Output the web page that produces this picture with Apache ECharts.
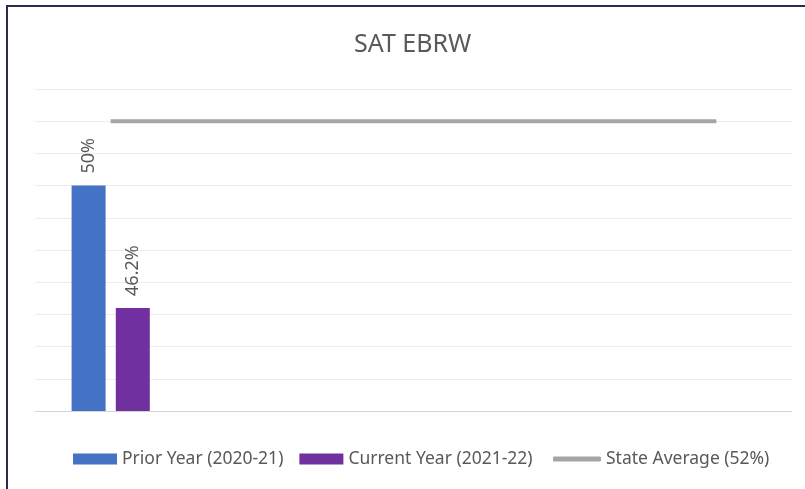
<!DOCTYPE html>
<html>
<head>
<meta charset="utf-8">
<script src="https://cdn.jsdelivr.net/npm/echarts@6/dist/echarts.min.js"></script>
<style>
    html, body { margin: 0; padding: 0; background: #fff; }
    #chart { width: 805px; height: 489px; }
    /* frame of the screenshot (top + left edge) */
    #frame {
        position: absolute; left: 6px; top: 5px; width: 805px; height: 489px;
        border-top: 2px solid #2e2a4e; border-left: 2px solid #2e2a4e;
        pointer-events: none;
    }
</style>
</head>
<body>
<div id="chart"></div>
<div id="frame"></div>
<script>
// 类目（只有第一个有柱子）
var categories = ['1', '2', '3', '4', '5'];
var priorYear = [50, null, null, null, null];
var currentYear = [46.2, null, null, null, null];
var stateAvg = [52, 52, 52, 52, 52];

var chart = echarts.init(document.getElementById('chart'));

var txt = '#595959';
var font = 'Noto Sans';
var legendText = { fontFamily: font, fontSize: 17.5, color: txt };

var barLabel = {
    show: true, position: 'top', rotate: 90, distance: 12,
    align: 'left', verticalAlign: 'middle',
    formatter: '{c}%', fontFamily: font, fontSize: 18, color: txt
};

var option = {
    animation: false,
    title: {
        text: 'SAT EBRW',
        left: 349,
        top: 27,
        textStyle: { fontFamily: font, fontSize: 25, fontWeight: 'normal', color: txt }
    },
    // 两个图例：柱子用矩形，平均线用细条
    legend: [
        {
            left: 68,
            top: 445,
            itemWidth: 44,
            itemHeight: 11,
            itemGap: 16,
            icon: 'rect',
            textStyle: legendText,
            data: ['Prior Year (2020-21)', 'Current Year (2021-22)']
        },
        {
            left: 548,
            top: 445,
            itemWidth: 48,
            itemHeight: 5,
            icon: 'roundRect',
            textStyle: legendText,
            data: ['State Average (52%)']
        }
    ],
    grid: { left: 35, right: 13, top: 89, bottom: 78 },
    xAxis: {
        type: 'category',
        data: categories,
        axisLine: { lineStyle: { color: '#d4d4d4', width: 1 } },
        axisTick: { show: false },
        axisLabel: { show: false }
    },
    yAxis: {
        type: 'value',
        min: 43,
        max: 53,
        interval: 1,
        axisLabel: { show: false },
        axisLine: { show: false },
        splitLine: { lineStyle: { color: '#ececec', width: 1 } }
    },
    series: [
        {
            name: 'Prior Year (2020-21)',
            type: 'bar',
            data: priorYear,
            barWidth: 34,
            barGap: '30%',
            itemStyle: { color: '#4472c4' },
            label: barLabel
        },
        {
            name: 'Current Year (2021-22)',
            type: 'bar',
            data: currentYear,
            barWidth: 34,
            itemStyle: { color: '#7030a0' },
            label: barLabel
        },
        {
            name: 'State Average (52%)',
            type: 'line',
            data: stateAvg,
            symbol: 'none',
            lineStyle: { color: '#a5a5a5', width: 4 },
            itemStyle: { color: '#a5a5a5' }
        }
    ]
};

chart.setOption(option);
</script>
</body>
</html>
